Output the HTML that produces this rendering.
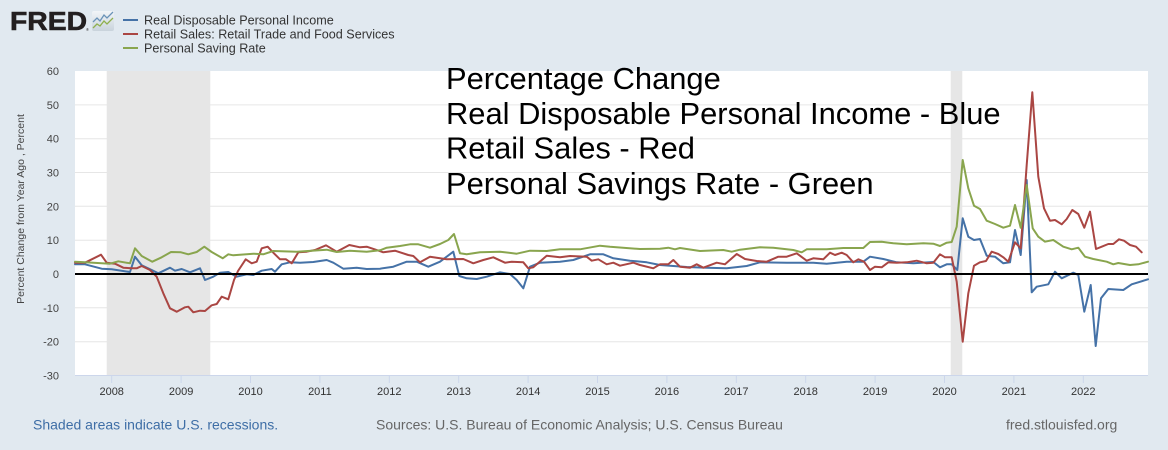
<!DOCTYPE html>
<html><head><meta charset="utf-8"><style>
html,body{margin:0;padding:0;background:#e1e9f0;}
svg{display:block;font-family:"Liberation Sans",Arial,sans-serif;}
</style></head><body>
<svg width="1168" height="450" viewBox="0 0 1168 450" xmlns="http://www.w3.org/2000/svg">
<rect width="1168" height="450" fill="#e1e9f0"/>
<!-- logo -->
<text x="10" y="30" font-size="25.5" font-weight="bold" fill="#231f20" textLength="77" lengthAdjust="spacingAndGlyphs" stroke="#231f20" stroke-width="0.6">FRED</text>
<text x="86" y="31" font-size="4" fill="#231f20">®</text>
<defs><linearGradient id="ig" x1="0" y1="0" x2="0" y2="1"><stop offset="0" stop-color="#f2f5f8"/><stop offset="1" stop-color="#c9d3dc"/></linearGradient></defs>
<rect x="92" y="11" width="22" height="20" rx="2" fill="url(#ig)"/>
<polyline points="93,22 97,18 100,21 104,15 107,18 113,12" fill="none" stroke="#6b93b8" stroke-width="1.3"/>
<polyline points="93,28 97,24 100,26 104,21 107,24 113,18" fill="none" stroke="#8fb04e" stroke-width="1.3"/>
<!-- legend -->
<line x1="123" y1="20" x2="138" y2="20" stroke="#4572a7" stroke-width="2"/>
<line x1="123" y1="34" x2="138" y2="34" stroke="#aa4643" stroke-width="2"/>
<line x1="123" y1="48" x2="138" y2="48" stroke="#89a54e" stroke-width="2"/>
<g font-size="12.6" fill="#333">
<text x="144" y="24.5">Real Disposable Personal Income</text>
<text x="144" y="38.5">Retail Sales: Retail Trade and Food Services</text>
<text x="144" y="52.5">Personal Saving Rate</text>
</g>
<!-- plot bg -->
<rect x="75" y="71" width="1073" height="304.5" fill="#fff"/>
<!-- recessions -->
<rect x="106.7" y="71" width="103.6" height="304.5" fill="#e6e6e6"/>
<rect x="950.7" y="71" width="11.6" height="304.5" fill="#e6e6e6"/>
<!-- grid -->
<g stroke="#e6e6e6" stroke-width="1">
<line x1="75" x2="1148" y1="104.9" y2="104.9"/>
<line x1="75" x2="1148" y1="138.7" y2="138.7"/>
<line x1="75" x2="1148" y1="172.5" y2="172.5"/>
<line x1="75" x2="1148" y1="206.3" y2="206.3"/>
<line x1="75" x2="1148" y1="240.2" y2="240.2"/>
<line x1="75" x2="1148" y1="307.8" y2="307.8"/>
<line x1="75" x2="1148" y1="341.7" y2="341.7"/>
</g>
<!-- x axis -->
<line x1="75" x2="1148" y1="375.5" y2="375.5" stroke="#ccd6eb" stroke-width="1"/>
<g stroke="#ccd6eb" stroke-width="1">
<line x1="111.7" x2="111.7" y1="375" y2="383"/>
<line x1="181.1" x2="181.1" y1="375" y2="383"/>
<line x1="250.5" x2="250.5" y1="375" y2="383"/>
<line x1="319.9" x2="319.9" y1="375" y2="383"/>
<line x1="389.3" x2="389.3" y1="375" y2="383"/>
<line x1="458.7" x2="458.7" y1="375" y2="383"/>
<line x1="528.1" x2="528.1" y1="375" y2="383"/>
<line x1="597.5" x2="597.5" y1="375" y2="383"/>
<line x1="666.9" x2="666.9" y1="375" y2="383"/>
<line x1="736.3" x2="736.3" y1="375" y2="383"/>
<line x1="805.7" x2="805.7" y1="375" y2="383"/>
<line x1="875.1" x2="875.1" y1="375" y2="383"/>
<line x1="944.5" x2="944.5" y1="375" y2="383"/>
<line x1="1013.9" x2="1013.9" y1="375" y2="383"/>
<line x1="1083.3" x2="1083.3" y1="375" y2="383"/>
</g>
<g font-size="11" fill="#333" text-anchor="middle">
<text x="111.7" y="395">2008</text>
<text x="181.1" y="395">2009</text>
<text x="250.5" y="395">2010</text>
<text x="319.9" y="395">2011</text>
<text x="389.3" y="395">2012</text>
<text x="458.7" y="395">2013</text>
<text x="528.1" y="395">2014</text>
<text x="597.5" y="395">2015</text>
<text x="666.9" y="395">2016</text>
<text x="736.3" y="395">2017</text>
<text x="805.7" y="395">2018</text>
<text x="875.1" y="395">2019</text>
<text x="944.5" y="395">2020</text>
<text x="1013.9" y="395">2021</text>
<text x="1083.3" y="395">2022</text>
</g>
<!-- y labels -->
<g font-size="11" fill="#444" text-anchor="end">
<text x="59" y="75">60</text>
<text x="59" y="108.9">50</text>
<text x="59" y="142.7">40</text>
<text x="59" y="176.5">30</text>
<text x="59" y="210.3">20</text>
<text x="59" y="244.2">10</text>
<text x="59" y="278">0</text>
<text x="59" y="311.8">-10</text>
<text x="59" y="345.7">-20</text>
<text x="59" y="379.5">-30</text>
</g>
<text transform="translate(24,209) rotate(-90)" font-size="10.5" fill="#444" text-anchor="middle">Percent Change from Year Ago , Percent</text>
<!-- series -->
<g fill="none" stroke-width="2" stroke-linejoin="round" stroke-linecap="round">
<polyline stroke="#4572a7" points="75,264.3 85,264.3 101.7,268.7 111.7,269.3 130,272 135,256.7 141.7,265.3 151.7,270 158.3,273.3 170,267.7 175,270.7 181.7,269 190,272.3 200,268.3 205,280 213.3,276.7 220,272.7 228.3,272 236.7,276.7 246.7,274.3 253.3,275 261.7,270.7 271.7,269 275,271.7 281.7,264.3 290,262.3 300,262.7 313.3,262 326.7,260 333.3,262.7 343.3,268.7 356.7,267.7 366.7,269 380,268.7 393.3,266.7 406.7,261.7 416.7,261.7 428.3,266.7 440,261.7 453.3,251.7 459.3,276 466.7,278.3 476.7,279 486.7,276.7 500,272.3 510,274 516.7,280 523.3,288.3 530,266.7 540,262.7 560,261.7 573.3,260 590,254.3 603.3,254.3 613.3,258.3 630,260.7 646.7,262.3 660,265 686.7,267 706.7,267.7 726.7,268.3 746.7,266 760,262.3 786.7,262.7 813.3,262.7 826.7,263.7 846.7,261.7 863.3,261.7 870,256.7 883.3,259 896.7,262.3 913.3,263.3 933.3,262 940,267.3 946.7,264.3 951.7,264.3 957.3,270 962.7,218.3 968.3,236.7 974,240 980,239 986.7,255.7 995,256.7 1003.3,263.3 1010,262.3 1015,230 1020.7,255 1026.7,180 1031.7,292.3 1036.7,286.7 1048.3,284.3 1055,271.7 1061.7,278.3 1073.3,272.7 1078.3,275 1084.3,311.7 1090.7,285 1095.7,346 1101,298.3 1108.3,289 1123.3,290 1131.7,284.3 1148,279.3"/>
<polyline stroke="#aa4643" points="75,262.7 85,262.7 101,254.7 106.7,262.7 115,263.7 123.3,267.7 131.7,268.3 136.7,268.3 141.7,266 150,270 156.7,276.7 163.3,293.3 170,308.3 176.7,311.7 185,307.3 188.3,306.7 193.3,312.3 200,310.7 205,311 211.7,305.3 216.7,304 221.7,296.7 228.3,299.3 234,280 238,271 245.7,259.3 251.7,263.3 256.7,261.7 261.7,248.3 267.7,246.7 273.3,252.7 280,259.3 286,259.3 291.7,263.3 298.3,252.3 306.7,251.7 315,250 326,245.3 336.7,251.7 349.3,245 360,247.3 366.7,246.7 383.3,252.3 395,250.7 408.3,255 413.3,256 420,262.3 430,256.7 446.7,259.3 463.3,259 473.3,263.3 483.3,260 493.3,257.3 505,262.7 511.7,261.7 523.3,262.3 528.3,268.3 533.3,267.3 546.7,255.7 560,257.3 570,256 586.7,256.7 591.7,260.7 598.3,259.3 606.7,264.3 613.3,262.7 620,265.7 633.3,262.7 640,265 653.3,268.3 660,264.3 668.3,264.3 673.3,260 680,266.7 690,267.7 696.7,264.3 703.3,267.7 716.7,262.7 725,264.3 736.7,254 745,259 756.7,261 766.7,261.7 778.3,256.7 786.7,256.7 796.7,253.3 806.7,260.7 813.3,258.3 823.3,259.3 830,252.7 835,255 841.7,252.7 846.7,255 853.3,262.3 858.3,259.3 864,261.7 870,270 875,266.7 881.7,267.3 888.3,262.3 896.7,262.7 906.7,262.3 916.7,260.7 926.7,263.3 933.3,262.7 940,254.3 945,257.3 951.7,257.3 956.7,281.7 962.7,341.7 968.3,293.3 974,265.7 980,262.3 986,261 991.7,251.7 998.3,254 1003.3,257.3 1008.3,261.7 1015,242.3 1020.7,248.3 1026.7,165 1032.3,92.3 1038.3,176.7 1044,208.3 1050,220.7 1055,220 1061.7,224.3 1066.7,219 1072.3,210 1078.3,214 1084.3,227.7 1090,211.7 1096,249 1101.7,246.7 1108.3,244 1113.3,244 1119,239.3 1124,240.7 1130,245 1136,246.7 1141.7,252.3"/>
<polyline stroke="#89a54e" points="75,261.7 85,262.3 110,263.7 118.3,261.3 130,263.3 135,248.3 141.7,256 152.3,261.7 161.7,257.3 171,252 181,252.3 188.3,254.3 196.7,252 204.3,246.7 211.7,252 222.7,258.3 228.3,254.3 233.3,255.3 253.3,253.7 263.3,254.3 273.3,251 296.7,251.7 326.7,249.7 336.7,252 350,250.7 366.7,251.7 380,250.3 386.7,247.7 400,246 410,244.3 418.3,244.3 430,247.7 440,244 448.3,240 454,234 460,253.3 466.7,254.3 480,252.3 500,251.7 516.7,253.7 530,250.7 546.7,251 560,249.3 580,249.3 600,245.7 610,246.7 640,249 660,248.7 668.3,247.7 675,249.3 680,248 700,251 723.3,250 731.7,251.7 740,249.7 760,247.3 773.3,247.7 793.3,250 801.7,252.3 806.7,249.3 826.7,249.3 843.3,248 863.3,248 870,242 881.7,241.7 893.3,243.3 906.7,244.3 923.3,243.3 933.3,243.7 940,246 946.7,242.7 951.7,242 956.7,226.7 962.7,160 968.3,188.3 974,205.7 980,209 986.7,220.7 995,224 1003.3,227.7 1010,225.7 1015,205 1020.7,227.7 1026.7,185 1032.7,228.3 1038.3,236.7 1045,241.7 1053.3,240 1063.3,246.7 1071.7,249.3 1078.3,247.7 1085,256.7 1093.3,259 1106.7,261.7 1113.3,264.3 1118.3,263 1130,265 1138.3,264.3 1148,261.7"/>
</g>
<line x1="75" x2="1148" y1="274" y2="274" stroke="#000" stroke-width="2"/>
<!-- overlay text -->
<g font-size="30.9" fill="#000">
<text x="446" y="89">Percentage Change</text>
<text x="446" y="124">Real Disposable Personal Income - Blue</text>
<text x="446" y="158.5">Retail Sales - Red</text>
<text x="446" y="194">Personal Savings Rate - Green</text>
</g>
<!-- footer -->
<text x="33" y="429.5" font-size="14" fill="#3e6ea6">Shaded areas indicate U.S. recessions.</text>
<text x="376" y="429.5" font-size="14" fill="#666">Sources: U.S. Bureau of Economic Analysis; U.S. Census Bureau</text>
<text x="1006" y="429.5" font-size="14" fill="#666">fred.stlouisfed.org</text>
</svg>
</body></html>
